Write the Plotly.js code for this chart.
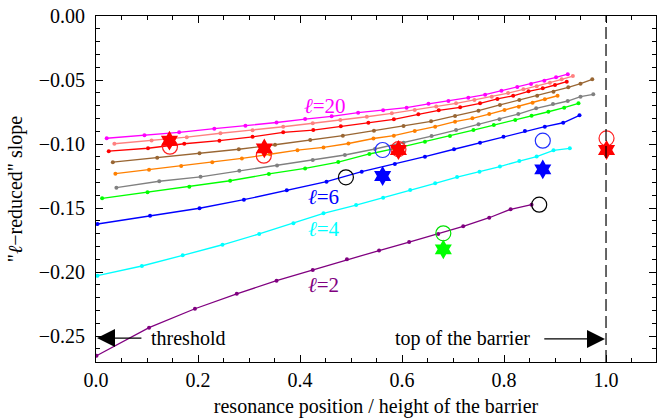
<!DOCTYPE html>
<html>
<head>
<meta charset="utf-8">
<script src="https://cdn.plot.ly/plotly-3.0.1.min.js"></script>
<style>html,body{margin:0;padding:0;background:#fff;}#chart{width:667px;height:418px;}</style>
</head>
<body>
<div id="chart"></div>
<script>
// ---- data ----
const x_l2 = [0.001,0.104,0.194,0.276,0.354,0.425,0.492,0.555,0.614,0.671,0.720,0.771,0.813,0.854];
const y_l2 = [-0.2654,-0.2435,-0.2287,-0.2170,-0.2068,-0.1984,-0.1901,-0.1832,-0.1766,-0.1703,-0.1643,-0.1576,-0.1510,-0.1474];

const x_l4 = [0.003,0.090,0.170,0.248,0.320,0.387,0.446,0.510,0.563,0.616,0.665,0.708,0.752,0.792,0.830,0.864,0.897,0.929];
const y_l4 = [-0.2029,-0.1953,-0.1870,-0.1787,-0.1703,-0.1620,-0.1541,-0.1477,-0.1420,-0.1359,-0.1307,-0.1258,-0.1216,-0.1176,-0.1133,-0.1098,-0.1049,-0.1034];

const x_l6 = [0.003,0.106,0.203,0.290,0.374,0.452,0.521,0.586,0.645,0.702,0.753,0.799,0.841,0.880,0.916,0.948];
const y_l6 = [-0.1625,-0.1560,-0.1502,-0.1435,-0.1362,-0.1294,-0.1216,-0.1156,-0.1099,-0.1041,-0.0990,-0.0943,-0.0898,-0.0865,-0.0834,-0.0776];

const x_l8 = [0.012,0.101,0.183,0.263,0.339,0.410,0.475,0.536,0.592,0.645,0.694,0.740,0.780,0.822,0.854,0.887,0.918,0.946];
const y_l8 = [-0.1424,-0.1377,-0.1334,-0.1287,-0.1234,-0.1191,-0.1141,-0.1078,-0.1031,-0.0982,-0.0938,-0.0891,-0.0852,-0.0813,-0.0779,-0.0748,-0.0716,-0.0682];

const x_l10 = [0.040,0.124,0.205,0.281,0.355,0.425,0.488,0.547,0.603,0.658,0.706,0.750,0.791,0.828,0.863,0.896,0.925,0.950,0.975];
const y_l10 = [-0.1341,-0.1291,-0.1256,-0.1209,-0.1168,-0.1125,-0.1086,-0.1039,-0.0990,-0.0938,-0.0891,-0.0846,-0.0806,-0.0766,-0.0721,-0.0688,-0.0664,-0.0630,-0.0612];

const x_l12 = [0.038,0.104,0.167,0.228,0.286,0.341,0.395,0.446,0.495,0.544,0.584,0.625,0.665,0.704,0.738,0.771,0.801,0.829,0.856,0.880,0.905];
const y_l12 = [-0.1232,-0.1201,-0.1172,-0.1142,-0.1113,-0.1080,-0.1048,-0.1027,-0.0996,-0.0957,-0.0935,-0.0898,-0.0865,-0.0826,-0.0799,-0.0766,-0.0734,-0.0709,-0.0677,-0.0651,-0.0623];

const x_l14 = [0.033,0.120,0.203,0.280,0.351,0.420,0.484,0.545,0.603,0.657,0.704,0.750,0.792,0.830,0.865,0.897,0.926,0.950,0.973];
const y_l14 = [-0.1142,-0.1108,-0.1073,-0.1041,-0.1006,-0.0969,-0.0935,-0.0896,-0.0859,-0.0823,-0.0781,-0.0740,-0.0695,-0.0656,-0.0623,-0.0591,-0.0557,-0.0529,-0.0495];

const x_l16 = [0.025,0.102,0.173,0.242,0.307,0.367,0.426,0.480,0.534,0.584,0.632,0.672,0.714,0.753,0.787,0.818,0.848,0.876,0.900,0.923];
const y_l16 = [-0.1056,-0.1033,-0.0998,-0.0974,-0.0944,-0.0909,-0.0891,-0.0862,-0.0834,-0.0807,-0.0768,-0.0737,-0.0713,-0.0682,-0.0648,-0.0623,-0.0588,-0.0565,-0.0539,-0.0513];

const x_l18 = [0.036,0.109,0.178,0.244,0.307,0.367,0.425,0.479,0.531,0.580,0.625,0.667,0.706,0.742,0.776,0.808,0.838,0.864,0.890,0.913,0.935];
const y_l18 = [-0.0998,-0.0973,-0.0947,-0.0916,-0.0892,-0.0865,-0.0838,-0.0813,-0.0787,-0.0760,-0.0734,-0.0707,-0.0682,-0.0656,-0.0630,-0.0602,-0.0573,-0.0549,-0.0521,-0.0495,-0.0469];

const x_l20 = [0.021,0.095,0.163,0.232,0.293,0.354,0.410,0.462,0.514,0.563,0.609,0.652,0.691,0.730,0.763,0.795,0.826,0.853,0.879,0.902,0.925];
const y_l20 = [-0.0955,-0.0932,-0.0909,-0.0880,-0.0857,-0.0832,-0.0805,-0.0784,-0.0755,-0.0737,-0.0716,-0.0686,-0.0664,-0.0638,-0.0615,-0.0584,-0.0555,-0.0531,-0.0505,-0.0479,-0.0455];

// open circles and six-pointed stars
const circ_x = [0.145,0.329,0.593,0.490,0.869,0.562,0.876,0.681,1.001];
const circ_y = [-0.1021,-0.1091,-0.1040,-0.1260,-0.1474,-0.1047,-0.0974,-0.1698,-0.0956];
const circ_c = ['#ff2020','#ff2020','#ff2020','#000000','#000000','#2030ff','#2030ff','#00e000','#ff2020'];

const star_x = [0.144,0.330,0.593,0.562,0.876,0.681,1.001];
const star_y = [-0.0974,-0.1034,-0.1047,-0.1250,-0.1198,-0.1823,-0.1047];
const star_c = ['#ff0000','#ff0000','#ff0000','#0000ff','#0000ff','#00ff00','#ff0000'];

const seriesNames = ['ℓ=2','ℓ=4','ℓ=6','ℓ=8','ℓ=10','ℓ=12','ℓ=14','ℓ=16','ℓ=18','ℓ=20'];
const seriesColors = ['#800080','#00ffff','#0000ff','#00ff00','#808080','#ff8000','#996633','#ff0000','#ff8080','#ff00ff'];
const seriesX = [x_l2,x_l4,x_l6,x_l8,x_l10,x_l12,x_l14,x_l16,x_l18,x_l20];
const seriesY = [y_l2,y_l4,y_l6,y_l8,y_l10,y_l12,y_l14,y_l16,y_l18,y_l20];

const xTickVals = [0,0.2,0.4,0.6,0.8,1.0];
const yTickVals = [0,-0.05,-0.10,-0.15,-0.20,-0.25];
const xRange = [0, 1.098];
const yRange = [-0.2703, 0];

const traces = [];
for (let i = 0; i < seriesNames.length; i++) {
  traces.push({
    type: 'scatter', mode: 'lines+markers', name: seriesNames[i],
    x: seriesX[i], y: seriesY[i],
    line: {color: seriesColors[i], width: 1.3},
    marker: {color: seriesColors[i], size: 4},
    hoverinfo: 'x+y'
  });
}
traces.push({
  type: 'scatter', mode: 'markers', name: 'circles',
  x: circ_x, y: circ_y,
  marker: {symbol: 'circle-open', size: 15, color: circ_c, line: {width: 1.2, color: circ_c}}
});
traces.push({
  type: 'scatter', mode: 'markers', name: 'stars',
  x: star_x, y: star_y,
  marker: {symbol: 'hexagram', size: 15, color: star_c, line: {width: 0}}
});
// invisible trace so the mirrored (top/right) tick axes are drawn
traces.push({
  type: 'scatter', mode: 'markers', x: [xRange[0]], y: [yRange[0]], xaxis: 'x2', yaxis: 'y2',
  marker: {opacity: 0}, hoverinfo: 'skip', showlegend: false
});

const serif = 'Liberation Serif, Times New Roman, serif';
const axisCommon = {
  showgrid: false, zeroline: false, showline: true, linecolor: '#000', linewidth: 1,
  ticks: 'inside', ticklen: 7, tickwidth: 1, tickcolor: '#000',
  tickfont: {family: serif, size: 20, color: '#000'}
};

const layout = {
  width: 667, height: 418,
  margin: {l: 96, r: 11, t: 16, b: 56},
  paper_bgcolor: '#fff', plot_bgcolor: '#fff',
  showlegend: false,
  font: {family: serif, size: 20, color: '#000'},
  xaxis: Object.assign({}, axisCommon, {
    range: xRange, tickvals: xTickVals, tickformat: '.1f',
    minor: {dtick: 0.05, tick0: 0, ticks: 'inside', ticklen: 4, tickcolor: '#000'},
    title: {text: 'resonance position / height of the barrier', font: {family: serif, size: 20}, standoff: 9}
  }),
  yaxis: Object.assign({}, axisCommon, {
    range: yRange, tickvals: yTickVals, tickformat: '.2f',
    minor: {dtick: 0.01, tick0: 0, ticks: 'inside', ticklen: 4, tickcolor: '#000'},
    ticklabelstandoff: 6,
    title: {text: '"<i>ℓ</i>−reduced" slope', font: {family: serif, size: 20}, standoff: 10}
  }),
  xaxis2: Object.assign({}, axisCommon, {
    overlaying: 'x', side: 'top', anchor: 'y2', range: xRange, tickvals: xTickVals,
    showticklabels: false,
    minor: {dtick: 0.05, tick0: 0, ticks: 'inside', ticklen: 4, tickcolor: '#000'}
  }),
  yaxis2: Object.assign({}, axisCommon, {
    overlaying: 'y', side: 'right', anchor: 'x2', range: yRange, tickvals: yTickVals,
    showticklabels: false,
    minor: {dtick: 0.01, tick0: 0, ticks: 'inside', ticklen: 4, tickcolor: '#000'}
  }),
  shapes: [{
    type: 'line', xref: 'x', yref: 'paper', x0: 1.0, x1: 1.0, y0: 0, y1: 1,
    line: {color: '#000', width: 1.2, dash: '12px,5px'}
  }],
  annotations: [
    {x: 0.449, y: -0.0703, xref: 'x', yref: 'y', text: '<i>ℓ</i>=20', showarrow: false, font: {family: serif, size: 21, color: '#ff00ff'}},
    {x: 0.447, y: -0.1414, xref: 'x', yref: 'y', text: '<i>ℓ</i>=6', showarrow: false, font: {family: serif, size: 21, color: '#0000ff'}},
    {x: 0.447, y: -0.1664, xref: 'x', yref: 'y', text: '<i>ℓ</i>=4', showarrow: false, font: {family: serif, size: 21, color: '#00ffff'}},
    {x: 0.447, y: -0.2102, xref: 'x', yref: 'y', text: '<i>ℓ</i>=2', showarrow: false, font: {family: serif, size: 21, color: '#800080'}},
    {x: 0.180, y: -0.2516, xref: 'x', yref: 'y', text: 'threshold', showarrow: false, font: {family: serif, size: 20, color: '#000'}},
    {x: 0.718, y: -0.2523, xref: 'x', yref: 'y', text: 'top of the barrier', showarrow: false, font: {family: serif, size: 20, color: '#000'}},
    {x: 0.002, y: -0.2516, xref: 'x', yref: 'y', ax: 0.092, ay: -0.2516, axref: 'x', ayref: 'y',
     text: '', showarrow: true, arrowhead: 2, arrowsize: 3, arrowwidth: 1.2, arrowcolor: '#000'},
    {x: 0.998, y: -0.2523, xref: 'x', yref: 'y', ax: 0.876, ay: -0.2523, axref: 'x', ayref: 'y',
     text: '', showarrow: true, arrowhead: 2, arrowsize: 3, arrowwidth: 1.2, arrowcolor: '#000'}
  ]
};

Plotly.newPlot('chart', traces, layout, {displayModeBar: false, staticPlot: true});
</script>
</body>
</html>
